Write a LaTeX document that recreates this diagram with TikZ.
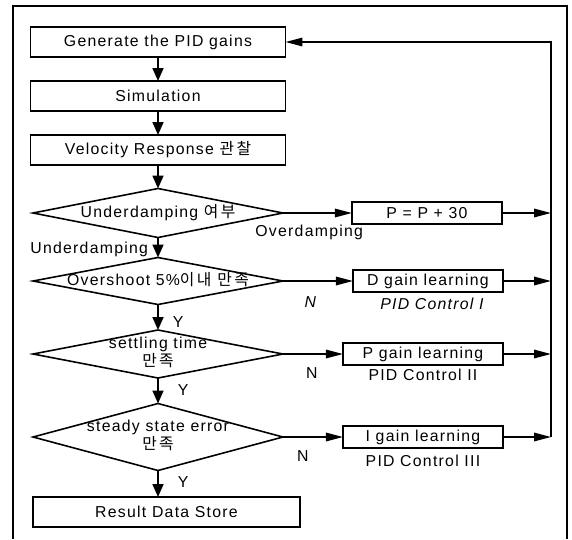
\documentclass[tikz,border=0pt]{standalone}
\usepackage{fontspec}
\setmainfont[LetterSpace=8]{Liberation Sans}
\newfontfamily\krfont[LetterSpace=15]{Noto Sans CJK KR}
\newcommand{\kr}[1]{{\krfont #1}}
\newcommand{\figfont}{\fontsize{9}{11}\selectfont}
\newcommand{\dtext}[1]{\makebox[0pt]{\renewcommand{\arraystretch}{0.85}\begin{tabular}{@{}c@{}}#1\end{tabular}}}
\usetikzlibrary{arrows.meta,shapes.geometric,positioning}

\begin{document}
\begin{tikzpicture}[
  x=0.02cm, y=-0.02cm, line width=0.9pt, font=\figfont,
  every node/.style={outer sep=0pt},
  >={Triangle[length=2.6mm,width=2.2mm]},
  % STYLES
  bnode/.style={rectangle,draw,minimum width=5.1cm,minimum height=0.6cm,inner sep=0pt},
  rnode/.style={rectangle,draw,minimum width=3cm,minimum height=0.45cm,inner sep=0pt},
  dnode/.style={diamond,draw,inner sep=0pt,minimum width=5cm,minimum height=#1},
  % OWNs
  comme/.style={inner sep=0pt},
  itl/.style={inner sep=0pt,font=\figfont\itshape},
  hto/.style={-{Triangle[length=3.4mm,width=1.7mm]}}]

  \useasboundingbox (0,0) rectangle (572,539);
  \draw (13,539) -- (13,6) -- (567,6) -- (567,539);

  \node[bnode] at (158,42) (gen) {Generate the PID gains};
  \node[bnode] at (158,96) (sim) {Simulation};
  \node[bnode] at (158,150) (vel) {Velocity Response \kr{관찰}};
  \node[dnode=0.98cm] at (158,213) (d1) {\dtext{Underdamping \kr{여부}}};
  \node[dnode=0.94cm] at (158,281) (d2) {\dtext{Overshoot 5\%\kr{이내 만족}}};
  \node[dnode=0.96cm] at (158,354) (d3) {\dtext{settling time\\ \kr{만족}}};
  \node[dnode=1.34cm] at (158,437) (d4) {\dtext{steady state error\\ \kr{만족}}};
  \node[bnode, minimum width=5.34cm] at (166.5,512) (res) {Result Data Store};

  \node[rnode] [right=1.38cm of d1] (pp) {P = P + 30};
  \node[rnode] [right=1.4cm of d2] (dg) {D gain learning};
  \node[rnode, minimum width=3.2cm] [right=1.2cm of d3] (pg) {P gain learning};
  \node[rnode, minimum width=3.2cm] [right=1.2cm of d4] (ig) {I gain learning};

  \node[itl] [below=0.12cm of dg, xshift=0.08cm] (c1) {PID Control I};
  \node[comme] [below=0.08cm of pg] (c2) {PID Control II};
  \node[comme] [below=0.14cm of ig] (c3) {PID Control III};

  \coordinate (top) at (551,42);

  \path[->]
    (gen) edge (sim)
    (sim) edge (vel)
    (vel) edge (d1)
    (d1) edge node[comme,left=0.2cm,pos=0.6] {Underdamping} (d2)
    (d2) edge node[comme,right=0.3cm,pos=0.68] {Y} (d3)
    (d3) edge node[comme,right=0.4cm,pos=0.48] {Y} (d4)
    (d4.south) edge node[comme,right=0.4cm,pos=0.44] {Y} (d4.south |- res.north);

  \path[hto]
    (d1) edge node[comme,below=0.24cm,pos=0.38] {Overdamping} (pp)
    (d2) edge node[itl,below=0.32cm,pos=0.39] {N} (dg)
    (d3) edge node[comme,below=0.27cm,pos=0.48] {N} (pg)
    (d4) edge node[comme,below=0.27cm,pos=0.33] {N} (ig)
    (pp.east) edge (pp -| top)
    (dg.east) edge (dg -| top)
    (pg.east) edge (pg -| top)
    (ig.east) edge (ig -| top);

  \draw[hto] (ig -| top) -- (top) -- (gen.east);
\end{tikzpicture}
\end{document}
